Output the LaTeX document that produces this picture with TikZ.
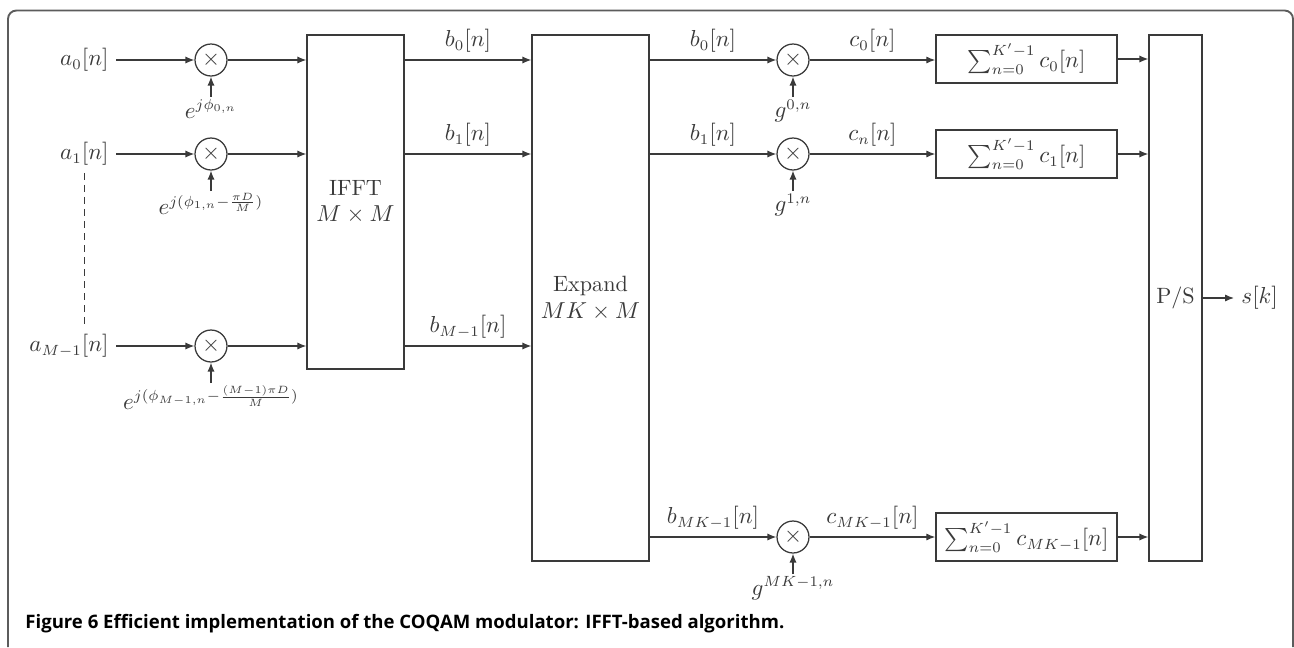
\documentclass[tikz,border=0pt]{standalone}
\usepackage{fontspec}
\usepackage{amsmath}
\newfontfamily\captionfont{Open Sans}
\usepackage{xcolor}
\definecolor{linegray}{HTML}{3A3A3A}
\definecolor{framegray}{HTML}{5C5C5C}
\usetikzlibrary{arrows.meta, positioning, calc}

\begin{document}
\begin{tikzpicture}[
        x=0.16667mm, y=-0.16667mm,
        node distance=3.4mm,
        font=\fontsize{10.5pt}{12.6pt}\selectfont,
        every node/.style={text=linegray},
        block/.style={
            rectangle,
            draw=linegray,
            line width=0.6pt,
            align=center,
            inner sep=0pt
        },
        mult/.style={
            circle,
            draw=linegray,
            line width=0.6pt,
            minimum size=5.33mm,
            inner sep=0pt
        },
        sumbox/.style={block, minimum width=30.2mm, minimum height=8mm},
        gain/.style={inner sep=1pt},
        arrow/.style={
            -{Latex[length=1.5mm, width=1.2mm]},
            draw=linegray,
            line width=0.6pt
        }
    ]
    \useasboundingbox (0,0) rectangle (1294,647);

    % Frame
    \draw[framegray, line width=0.9pt, rounded corners=1.4mm] (8,647) -- (8,10.5) -- (1293,10.5) -- (1293,647);

    % Stage 1: inputs and phase rotation
    \node[anchor=east] (a0) at (116,60) {$a_0[n]$};
    \node[anchor=east] (a1) at (116,154) {$a_1[n]$};
    \node[anchor=east] (aM) at (116,346) {$a_{M-1}[n]$};
    \node[mult] (m0) at (211,60) {$\times$};
    \node[mult] (m1) at (211,154) {$\times$};
    \node[mult] (mM) at (211,346) {$\times$};
    \node[gain, below=of m0] (e0) {$e^{j\phi_{0,n}}$};
    \node[gain, below=of m1] (e1) {$e^{j(\phi_{1,n}-\frac{\pi D}{M})}$};
    \node[gain, below=of mM] (eM) {$e^{j(\phi_{M-1,n}-\frac{(M-1)\pi D}{M})}$};

    % Stage 2: IFFT and expansion
    \node[block, minimum width=16.17mm, minimum height=55.67mm] (ifft) at (355.5,202) {IFFT\\$M\times M$};
    \node[block, minimum width=19.5mm, minimum height=87.67mm] (expand) at (590.5,298) {Expand\\$MK\times M$};

    % Stage 3: polyphase filtering
    \node[mult] (p0) at (793,60) {$\times$};
    \node[mult] (p1) at (793,154) {$\times$};
    \node[mult] (pK) at (793,537) {$\times$};
    \node[gain, below=of p0] (g0) {$g^{0,n}$};
    \node[gain, below=of p1] (g1) {$g^{1,n}$};
    \node[gain, below=of pK] (gK) {$g^{MK-1,n}$};
    \node[sumbox] (sum0) at (1026.5,59) {$\sum_{n=0}^{K'-1} c_0[n]$};
    \node[sumbox] (sum1) at (1026.5,154) {$\sum_{n=0}^{K'-1} c_1[n]$};
    \node[sumbox] (sumK) at (1026.5,537) {$\sum_{n=0}^{K'-1} c_{MK-1}[n]$};

    % Stage 4: parallel to serial
    \node[block, minimum width=8.83mm, minimum height=87.67mm] (ps) at (1175.5,298) {P/S};
    \node[anchor=west] (sk) at (1234,298) {$s[k]$};

    % Arrows
    \draw[arrow] (a0) -- (m0);
    \draw[arrow] (a1) -- (m1);
    \draw[arrow] (aM) -- (mM);
    \draw[dashed, draw=linegray, dash pattern=on 1.1mm off 0.9mm] (a1.south) -- (a1.south |- aM.north);
    \draw[arrow] (e0) -- (m0);
    \draw[arrow] (e1) -- (m1);
    \draw[arrow] (eM) -- (mM);
    \draw[arrow] (m0) -- (m0 -| ifft.west);
    \draw[arrow] (m1) -- (m1 -| ifft.west);
    \draw[arrow] (mM) -- (mM -| ifft.west);
    \draw[arrow] (m0 -| ifft.east) -- (m0 -| expand.west) node[midway, above] {$b_0[n]$};
    \draw[arrow] (m1 -| ifft.east) -- (m1 -| expand.west) node[midway, above] {$b_1[n]$};
    \draw[arrow] (mM -| ifft.east) -- (mM -| expand.west) node[midway, above] {$b_{M-1}[n]$};
    \draw[arrow] (p0 -| expand.east) -- (p0) node[midway, above] {$b_0[n]$};
    \draw[arrow] (p1 -| expand.east) -- (p1) node[midway, above] {$b_1[n]$};
    \draw[arrow] (pK -| expand.east) -- (pK) node[midway, above] {$b_{MK-1}[n]$};
    \draw[arrow] (g0) -- (p0);
    \draw[arrow] (g1) -- (p1);
    \draw[arrow] (gK) -- (pK);
    \draw[arrow] (p0) -- (p0 -| sum0.west) node[midway, above] {$c_0[n]$};
    \draw[arrow] (p1) -- (p1 -| sum1.west) node[midway, above] {$c_n[n]$};
    \draw[arrow] (pK) -- (pK -| sumK.west) node[midway, above] {$c_{MK-1}[n]$};
    \draw[arrow] (sum0) -- (sum0 -| ps.west);
    \draw[arrow] (sum1) -- (sum1 -| ps.west);
    \draw[arrow] (sumK) -- (sumK -| ps.west);
    \draw[arrow] (ps) -- (sk);

    % Caption
    \node[anchor=base west, inner sep=0pt, text=black, font=\captionfont\bfseries\fontsize{8.8pt}{10pt}\selectfont] (caption) at (25,628) {Figure 6 Efficient implementation of the COQAM modulator: IFFT-based algorithm.};

\end{tikzpicture}
\end{document}
